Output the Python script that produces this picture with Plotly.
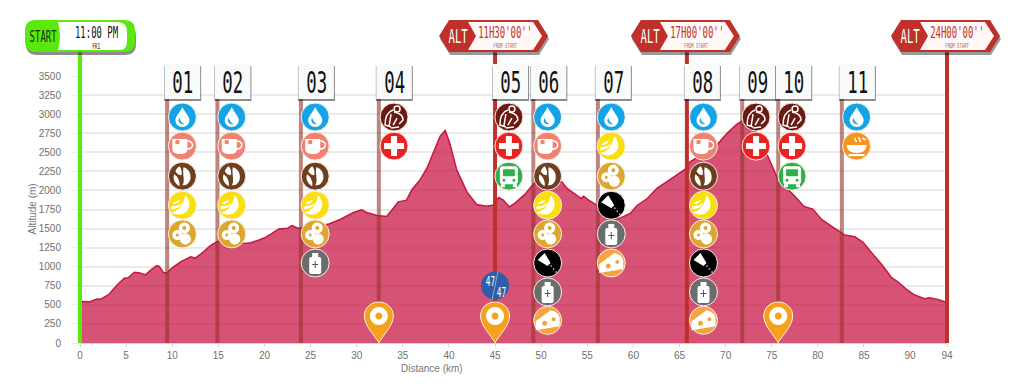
import plotly.graph_objects as go

profile_km = [0, 0.2, 1.1, 1.8, 2.2, 3.1, 4, 4.8, 5.25, 5.9, 6.5, 7.1, 7.7, 8.3, 8.6, 9.05, 9.4, 10, 10.9, 11.4, 12, 12.5, 13.4, 14.1, 14.85, 16, 17, 17.9, 18.5, 19.2, 20.1, 20.65, 21.55, 22.5, 23, 23.55, 24.1, 25.5, 27, 28.2, 29.65, 30.55, 31.1, 32.2, 33.25, 33.8, 34.5, 35.05, 35.4, 36, 36.9, 37.6, 38.3, 39.05, 39.6, 40.1, 40.85, 41.95, 43, 44.1, 44.75, 45.4, 45.9, 46.55, 47.2, 48.25, 49.2, 50.5, 51.3, 52.25, 52.8, 53.7, 54.35, 54.6, 55.15, 55.85, 57, 58, 58.6, 59.65, 60.4, 61.5, 62.55, 63.6, 64.7, 65.6, 66.15, 67, 68, 69.05, 70.15, 71.2, 71.75, 72.1, 72.8, 73.7, 74.6, 75.55, 75.9, 77.4, 78.5, 79.45, 80.4, 81.5, 82.9, 84, 84.9, 85.8, 86.9, 88, 88.7, 89.6, 90.5, 91.55, 92.1, 93, 93.9, 94]
profile_alt = [540, 545, 540, 576, 572, 633, 756, 849, 857, 928, 919, 893, 959, 1016, 1003, 923, 919, 985, 1064, 1090, 1130, 1112, 1196, 1275, 1328, 1350, 1320, 1306, 1315, 1341, 1385, 1425, 1495, 1504, 1539, 1508, 1508, 1530, 1561, 1619, 1710, 1745, 1710, 1671, 1658, 1741, 1850, 1863, 1872, 2012, 2144, 2288, 2506, 2712, 2787, 2616, 2266, 1981, 1815, 1793, 1806, 1907, 1872, 1784, 1837, 1951, 2091, 2170, 2150, 2112, 2026, 1951, 1894, 1925, 1872, 1820, 1720, 1620, 1640, 1698, 1803, 1894, 2026, 2112, 2200, 2275, 2375, 2440, 2500, 2594, 2748, 2866, 2909, 2920, 2900, 2680, 2441, 2180, 2112, 1938, 1790, 1755, 1620, 1530, 1416, 1394, 1319, 1187, 1033, 857, 800, 704, 629, 580, 594, 572, 536, 530]

station_km = [9.45, 14.9, 23.95, 32.4, 45, 49.15, 56.15, 65.8, 71.8, 75.7, 82.6]
station_icon_km = [11.1, 16.45, 25.5, 34.05, 46.5, 50.7, 57.6, 67.6, 73.3, 77.2, 84.2]
station_labels = ["01", "02", "03", "04", "05", "06", "07", "08", "09", "10", "11"]
station_icons = [
    ["water", "cup", "coffee", "banana", "honey"],
    ["water", "cup", "coffee", "banana", "honey"],
    ["water", "cup", "coffee", "banana", "honey", "bottle"],
    ["person", "cross"],
    ["person", "cross", "bus"],
    ["water", "cup", "coffee", "banana", "honey", "salt", "bottle", "cheese"],
    ["water", "banana", "honey", "salt", "bottle", "cheese"],
    ["water", "cup", "coffee", "banana", "honey", "salt", "bottle", "cheese"],
    ["person", "cross"],
    ["person", "cross", "bus"],
    ["water", "soup"],
]
row_alt = [2962, 2581, 2187, 1806, 1430, 1049, 669, 297]
cutoff_km = [45, 65.8, 94]
cutoff_labels = ["11H30'00''", "17H00'00''", "24H00'00''"]
pin_km = [32.4, 45, 75.7]
x_ticks = [0, 5, 10, 15, 20, 25, 30, 35, 40, 45, 50, 55, 60, 65, 70, 75, 80, 85, 90, 94]
y_ticks = [0, 250, 500, 750, 1000, 1250, 1500, 1750, 2000, 2250, 2500, 2750, 3000, 3250, 3500]
start_time = "11:00 PM"
start_day = "FRI"
start_km = 0
shuttle_km = 45
shuttle_alt = 752
shuttle_labels = ["47", "47"]

icon_colors = dict(water="#12a4e6", cup="#ef8373", coffee="#6d3f1f", banana="#f9df0b", honey="#dca62f",
                   bottle="#6b6c6e", salt="#000000", cheese="#f6a33d", person="#6b1a12", cross="#e62421",
                   bus="#2fb04b", soup="#f7941d")
NARROW = "DejaVu Sans Mono, monospace"
SANS = "Liberation Sans, Arial, sans-serif"
RED = "#c0302a"
GREEN = "#5be80f"


def circ(cx, cy, r):
    k = 0.5523 * r
    return (f"M{cx-r},{cy} C{cx-r},{cy+k} {cx-k},{cy+r} {cx},{cy+r} C{cx+k},{cy+r} {cx+r},{cy+k} {cx+r},{cy} "
            f"C{cx+r},{cy-k} {cx+k},{cy-r} {cx},{cy-r} C{cx-k},{cy-r} {cx-r},{cy-k} {cx-r},{cy} Z")


def poly(*pts):
    return "M" + " L".join(f"{x},{y}" for x, y in pts) + " Z"


def rrect(x0, y0, x1, y1, r):
    return (f"M{x0+r},{y0} L{x1-r},{y0} Q{x1},{y0} {x1},{y0+r} L{x1},{y1-r} Q{x1},{y1} {x1-r},{y1} "
            f"L{x0+r},{y1} Q{x0},{y1} {x0},{y1-r} L{x0},{y0+r} Q{x0},{y0} {x0+r},{y0} Z")


W = "#ffffff"
glyphs = {
    "water": [("M0,10 C2,5 7,1 7,-3 C7,-7 4,-10 0,-10 C-4,-10 -7,-7 -7,-3 C-7,1 -2,5 0,10 Z", W, None),
              ("M-4,-3 C-4,-6 -1,-8 2,-7 C-1,-6 -2,-4 -3,-1 Z", icon_colors["water"], None)],
    "cup": [("M-10,7 L5,7 L5,-3 C5,-7 2,-8 -2,-8 C-6,-8 -10,-7 -10,-3 Z", W, None),
            ("M5,5 C12,5 12,-3 4,-3", None, W),
            (poly((-7, 6), (-3, 6), (-3, 2), (-7, 2)), icon_colors["cup"], None)],
    "coffee": [("M-3,-10 C-8,-7 -10,-2 -8,2 C-5,0 -2,-5 -3,-10 Z", W, None),
               ("M-7,5 C-5,2 -3,1 -1,1 C0,4 -1,8 -3,10 C-5,9 -6,7 -7,5 Z", W, None),
               ("M1,9 C6,8 9,3 8,-3 C7,-7 3,-10 0,-9 C3,-5 0,1 1,9 Z", W, None)],
    "banana": [("M3,10 C9,3 8,-4 2,-8 C-2,-10 -7,-10 -11,-7 C-5,-6 0,-3 3,10 Z", W, None),
               ("M-11,-4 C-6,-4 -2,-2 0,3 C-3,0 -7,-1 -11,-1 Z", W, None),
               ("M-10,1 C-7,1 -4,2 -2,5 C-5,5 -8,4 -10,1 Z", W, None)],
    "honey": [(circ(2, 6, 5.5), W, None), (circ(-5, -1, 5), W, None), (circ(3, -5, 5.5), W, None),
              (circ(2, 6, 2), icon_colors["honey"], None), (circ(-5, -1, 1.5), icon_colors["honey"], None)],
    "bottle": [(rrect(-6, -11, 6, 6, 2), W, None), (poly((-3, 6), (3, 6), (3, 10), (-3, 10)), W, None),
               (poly((-0.5, -5), (0.5, -5), (0.5, -2), (3, -2), (3, -1), (0.5, -1), (0.5, 2), (-0.5, 2), (-0.5, -1), (-3, -1), (-3, -2), (-0.5, -2)), "#555555", None)],
    "salt": [(poly((-10, 3), (-3, 10), (3, 0), (0, -3)), W, None),
             (circ(3.5, -3, 0.9), "#aaaaaa", None), (circ(6, -6, 0.9), "#aaaaaa", None), (circ(8.5, -9, 0.9), "#aaaaaa", None)],
    "cheese": [("M-12,-1 L3,10 C8,9 12,6 12,2 L12,-6 L-12,-10 Z", W, None),
               (circ(-3, -3, 2.5), icon_colors["cheese"], None), (circ(6, 1, 2), icon_colors["cheese"], None)],
    "person": [(circ(3, 8, 3), None, W),
               ("M-1,7 C-7,5 -9,0 -9,-8 L-3,-10 M0,5 C6,4 9,1 9,-3 L5,-7 M-3,3 L-5,-9 M3,-1 L-1,-8 M5,-10 L-3,-11", None, W)],
    "cross": [(poly((-3, 10), (3, 10), (3, 3), (10, 3), (10, -3), (3, -3), (3, -10), (-3, -10), (-3, -3), (-10, -3), (-10, 3), (-3, 3)), W, None)],
    "bus": [(rrect(-9, -8, 9, 10, 3), W, None),
            (rrect(-6, 0, 6, 7, 1), icon_colors["bus"], None),
            (poly((-8, -8), (-4, -8), (-4, -11), (-8, -11)), W, None), (poly((4, -8), (8, -8), (8, -11), (4, -11)), W, None),
            (circ(-5, -4, 1.5), icon_colors["bus"], None), (circ(5, -4, 1.5), icon_colors["bus"], None)],
    "soup": [("M-10,1 L10,1 C10,-4 6,-7 0,-7 C-6,-7 -10,-4 -10,1 Z", W, None),
             (poly((-8, -8), (8, -8), (8, -10), (-8, -10)), W, None),
             ("M-2,8 L0,4 M2,9 L4,4 M6,8 L9,6", None, W)],
}

shapes = []
annotations = []


def anchored(path, x, y, fill=None, line=None, lw=1.5, xref="x", yref="y"):
    shapes.append(dict(type="path", xref=xref, yref=yref, xsizemode="pixel", ysizemode="pixel",
                       xanchor=x, yanchor=y, path=path, fillcolor=fill if fill else "rgba(0,0,0,0)",
                       line=dict(color=line if line else "rgba(0,0,0,0)", width=lw if line else 0), layer="above"))


def label(text, km, dx, dy, size, color, font=NARROW):
    annotations.append(dict(text=text, xref="paper", yref="paper", x=km / 94, y=1, xshift=dx, yshift=dy,
                            showarrow=False, xanchor="center", yanchor="middle",
                            font=dict(family=font, size=size, color=color)))


def vbar(km, alt_top, color):
    """Bar from the axis foot up to the flag, able to leave the plot area."""
    shapes.append(dict(type="path", xref="paper", yref="paper", xsizemode="pixel", xanchor=km / 94,
                       path=f"M-2,0 L2,0 L2,{alt_top / 3500} L-2,{alt_top / 3500} Z",
                       fillcolor=color, line=dict(width=0), layer="above"))


fig = go.Figure()
fig.add_trace(go.Scatter(x=profile_km, y=profile_alt, mode="lines", fill="tozeroy",
                         fillcolor="rgba(196,10,60,0.70)", line=dict(color="#c8173f", width=1.5),
                         hoverinfo="skip", showlegend=False))

# Vertical markers
for km in station_km:
    if km in cutoff_km:
        continue
    fig.add_trace(go.Scatter(x=[km, km], y=[0, 3200], mode="lines", showlegend=False, hoverinfo="skip",
                             line=dict(color="rgba(150,50,40,0.6)", width=4)))
for km in cutoff_km[:2]:
    fig.add_trace(go.Scatter(x=[km, km], y=[0, 3500], mode="lines", showlegend=False, hoverinfo="skip",
                             line=dict(color=RED, width=4)))
    shapes.append(dict(type="path", xref="paper", yref="paper", xsizemode="pixel", xanchor=km / 94,
                       path=f"M-2,1 L2,1 L2,{3810 / 3500} L-2,{3810 / 3500} Z",
                       fillcolor=RED, line=dict(width=0), layer="above"))
vbar(cutoff_km[2], 3810, RED)
vbar(start_km, 3810, GREEN)

# Service icons
ix, iy, ic, names = [], [], [], []
for km, icons in zip(station_icon_km, station_icons):
    for row, name in zip(row_alt, icons):
        ix.append(km)
        iy.append(row)
        ic.append(icon_colors[name])
        names.append(name)
fig.add_trace(go.Scatter(x=ix, y=iy, mode="markers", cliponaxis=False, showlegend=False, hoverinfo="skip",
                         marker=dict(size=28, color=ic, line=dict(color="#fbeee6", width=1))))
for x, y, name in zip(ix, iy, names):
    for path, fill, stroke in glyphs[name]:
        anchored(path, x, y, fill, stroke)

# Shuttle badge
fig.add_trace(go.Scatter(x=[shuttle_km], y=[shuttle_alt], mode="markers", cliponaxis=False, showlegend=False, hoverinfo="skip",
                         marker=dict(size=28, color="#2d5fa8")))
anchored("M3,14 L-3,-14", shuttle_km, shuttle_alt, None, "#8fa8d0", 1)
annotations.append(dict(text=shuttle_labels[0], x=shuttle_km, y=shuttle_alt, xshift=-5, yshift=5, showarrow=False,
                        font=dict(family=NARROW, size=14, color="#ffffff")))
annotations.append(dict(text=shuttle_labels[1], x=shuttle_km, y=shuttle_alt, xshift=6, yshift=-6, showarrow=False,
                        font=dict(family=NARROW, size=14, color="#ffffff")))

# Pins
for km in pin_km:
    anchored("M0,0 C-4,8 -14.5,17 -14.5,27 C-14.5,35 -8,41 0,41 C8,41 14.5,35 14.5,27 C14.5,17 4,8 0,0 Z",
             km, 0, "#f5a11b", "#fdf3e2", 1)
    anchored(circ(0, 27, 9), km, 0, "#ffffff")
    anchored(circ(0, 27, 3.5), km, 0, "#f5a11b")

# Number boxes
for km, text in zip(station_km, station_labels):
    anchored(poly((-3, 10), (34, 10), (34, -25), (-3, -25)), km / 94, 1, "rgba(0,0,0,0.45)", xref="paper", yref="paper")
    anchored(poly((-2.5, 12), (33, 12), (33, -23), (-2.5, -23)), km / 94, 1, "#f9fbfb", xref="paper", yref="paper")
    label(text, km, 15.5, -6, 31, "#111111")

# Cut-off flags
for km, text in zip(cutoff_km, cutoff_labels):
    anchored(poly((-55, 37), (-45, 53), (44, 53), (54, 37), (44, 21), (-45, 21)), km / 94, 1, "rgba(0,0,0,0.4)", xref="paper", yref="paper")
    anchored(poly((-56, 40), (-46, 56), (43, 56), (53, 40), (43, 24), (-46, 24)), km / 94, 1, RED, xref="paper", yref="paper")
    anchored(poly((-27, 54), (-19, 40), (-27, 26), (38, 26), (47, 40), (38, 54)), km / 94, 1, "#fff8f7", xref="paper", yref="paper")
    label("ALT", km, -37, 40, 19, "#ffffff")
    label(text, km, 10, 44, 16, RED)
    label("FROM START", km, 10, 30, 7, "#b06a66")

# Start flag
anchored(rrect(-54, 21, 56, 51, 11), start_km / 94, 1, "rgba(0,0,0,0.45)", xref="paper", yref="paper")
anchored(rrect(-55, 24, 55, 56, 11), start_km / 94, 1, GREEN, xref="paper", yref="paper")
anchored("M-22,54 L38,54 Q47,54 47,44 L47,35 Q47,26 40,26 L-22,26 Q-18,40 -22,54 Z", start_km / 94, 1, "#ffffff", xref="paper", yref="paper")
label("START", start_km, -37, 40, 16, "#10330a")
label(start_time, start_km, 16, 44, 16, "#111111")
label(start_day, start_km, 16, 30, 8, "#222222")

# Axis titles
annotations.append(dict(text="Distance (km)", xref="paper", yref="paper", x=0.4065, y=0, yshift=-25, showarrow=False,
                        xanchor="center", yanchor="middle", font=dict(family=SANS, size=10, color="#777777")))
annotations.append(dict(text="Altitude (m)", xref="paper", yref="paper", x=0, xshift=-48, y=0.5, textangle=-90, showarrow=False,
                        xanchor="center", yanchor="middle", font=dict(family=SANS, size=10, color="#777777")))

fig.update_layout(
    width=1024, height=392, margin=dict(l=80, r=77, t=76, b=49, pad=0),
    paper_bgcolor="#ffffff", plot_bgcolor="#ffffff", showlegend=False,
    shapes=shapes, annotations=annotations,
    xaxis=dict(range=[0, 94], tickmode="array", tickvals=x_ticks, ticktext=[str(v) for v in x_ticks], showgrid=False, zeroline=False,
               showline=True, linecolor="#ccd6eb", linewidth=1, ticks="outside", ticklen=3, tickcolor="#ccd6eb",
               tickfont=dict(family=SANS, size=10, color="#707070")),
    yaxis=dict(range=[0, 3500], tickmode="array", tickvals=y_ticks, ticktext=[str(v) for v in y_ticks], gridcolor="#ebebeb", gridwidth=1.5, zeroline=False,
               ticks="outside", ticklen=8, tickcolor="#ebebeb", ticklabelstandoff=8,
               tickfont=dict(family=SANS, size=10, color="#707070")),
)
condense = """
document.body.style.margin='0';
var squeeze=function(){document.querySelectorAll('.annotation-text').forEach(function(t){
 if((t.style.fontFamily||'').indexOf('Mono')<0)return;
 var x=parseFloat(t.getAttribute('x'))||0;
 t.setAttribute('transform','translate('+x+',0) scale(0.56,1) translate('+(-x)+',0)');});};
squeeze();setTimeout(squeeze,50);
"""
fig.write_html("out.html", config=dict(displayModeBar=False), post_script=condense)
